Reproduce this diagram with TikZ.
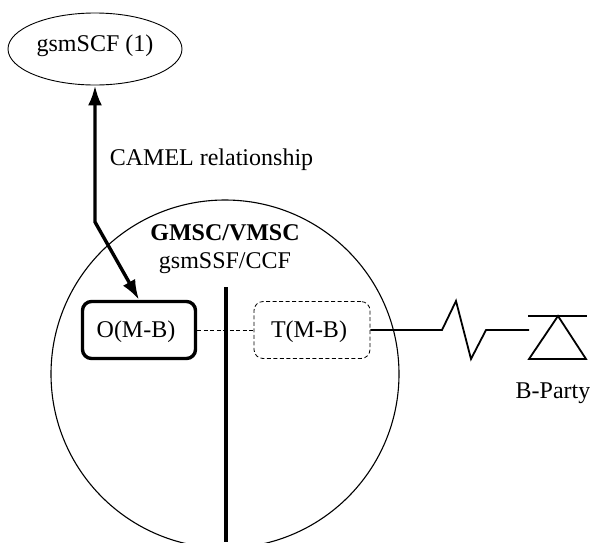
\documentclass[tikz,border=0pt]{standalone}
\usepackage{fontspec}
\setmainfont{Liberation Serif}
\usetikzlibrary{arrows.meta,shapes.geometric}
\tikzset{
  x=1pt,y=-1pt,
  lbl/.style={inner sep=0pt,font=\fontsize{24}{28}\selectfont},
  scfnode/.style={draw,ellipse,line width=0.9pt,minimum width=174pt,minimum height=72pt,inner sep=0pt},
  obox/.style={draw,rounded corners=9pt,line width=3.4pt,minimum width=113pt,minimum height=57pt,inner sep=0pt},
  tbox/.style={draw,dash pattern=on 4pt off 2.5pt,rounded corners=9pt,line width=0.8pt,minimum width=116pt,minimum height=57pt,inner sep=0pt},
  relation/.style={line width=3.4pt,{Latex[length=20pt,width=14pt]}-{Latex[length=20pt,width=14pt]}},
  wire/.style={line width=1.8pt},
  link/.style={line width=0.8pt,dash pattern=on 4pt off 2.5pt},
  bar/.style={line width=4.2pt}
}
\begin{document}
\begin{tikzpicture}
\useasboundingbox (0,0) rectangle (590,542);
\clip (0,0) rectangle (590,542);
\fill[white] (0,0) rectangle (590,542);
\node[draw,circle,line width=1.1pt,minimum size=348pt,inner sep=0pt] (msc) at (225,374) {};
\node[scfnode] (scf) at (95,49) {};
\node[obox] (o) at (139,330) {};
\node[tbox] (t) at (312,330) {};
\node[lbl] (scflabel) at (95,46) {gsmSCF (1)};
\node[lbl] (olabel) at (136,332) {O(M-B)};
\node[lbl] (tlabel) at (309,332) {T(M-B)};
\node[lbl] (cam) at (211.5,160) {CAMEL relationship};
\node[lbl] (gmsc) at (225,233) {\bfseries GMSC/VMSC};
\node[lbl] (ssf) at (225,263) {gsmSSF/CCF};
\node[lbl] (party) at (553,393) {B-Party};
\coordinate (bend) at (95,222);
\coordinate (bartop) at (226,287);
\coordinate (barend) at (226,542);
\coordinate (z1) at (442,330);
\coordinate (z2) at (456,301);
\coordinate (z3) at (471,359);
\coordinate (z4) at (486,330);
\coordinate (z5) at (529,330);
\coordinate (hl) at (528,316);
\coordinate (hr) at (587,316);
\coordinate (apex) at (558,316);
\coordinate (bl) at (529,359);
\coordinate (br) at (586,359);
\draw[relation] (scf.south) -- (bend) -- (o.north);
\draw[link] (o.east) -- (t.west);
\draw[bar] (bartop) -- (barend);
\draw[wire] (t.east) -- (z1) -- (z2) -- (z3) -- (z4) -- (z5);
\draw[wire] (hl) -- (hr);
\draw[wire] (apex) -- (bl) -- (br) -- cycle;
\end{tikzpicture}
\end{document}
